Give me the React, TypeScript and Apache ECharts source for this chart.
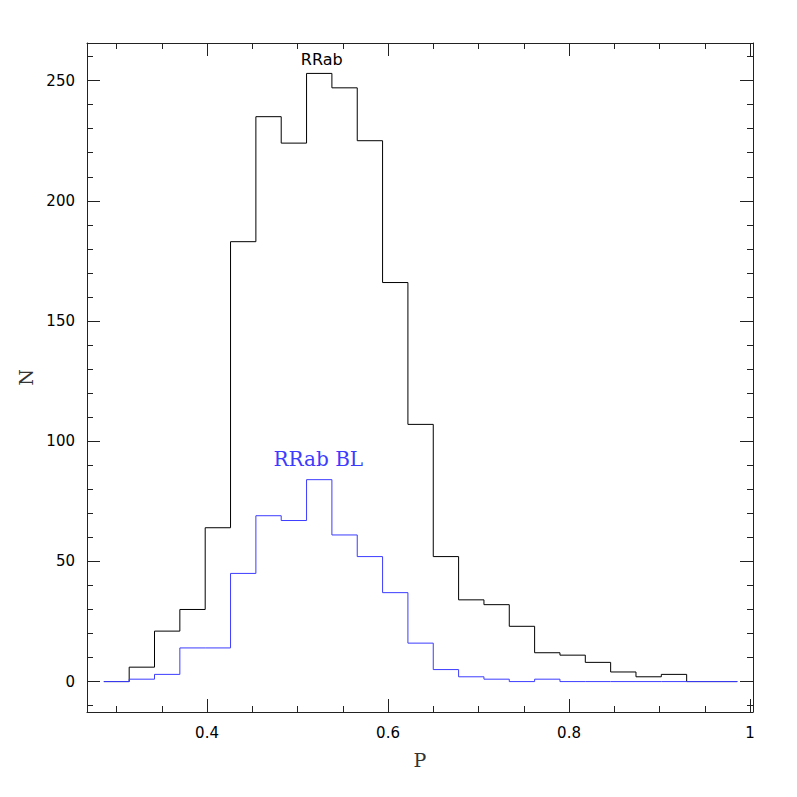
import React, { useEffect, useRef } from "react";
import * as echarts from "echarts";

// Histogram bin edges (period P)
const binEdges = [
  0.286, 0.314, 0.342, 0.37, 0.398, 0.426, 0.454, 0.482, 0.51, 0.538, 0.566, 0.594, 0.622,
  0.65, 0.678, 0.706, 0.734, 0.762, 0.79, 0.818, 0.846, 0.874, 0.902, 0.93, 0.958, 0.986,
];
// Counts per bin
const rrabCounts = [0, 6, 21, 30, 64, 183, 235, 224, 253, 247, 225, 166, 107, 52, 34, 32, 23, 12, 11, 8, 4, 2, 3, 0, 0];
const rrabBlCounts = [0, 1, 3, 14, 14, 45, 69, 67, 84, 61, 52, 37, 16, 5, 2, 1, 0, 1, 0, 0, 0, 0, 0, 0, 0];

// Axis ticks
const xMajorTicks = [0.4, 0.6, 0.8, 1.0];
const xMinorTicks = [0.3, 0.35, 0.45, 0.5, 0.55, 0.65, 0.7, 0.75, 0.85, 0.9, 0.95];
const yMajorTicks = [0, 50, 100, 150, 200, 250];
const yMinorTicks = [-10, 10, 20, 30, 40, 60, 70, 80, 90, 110, 120, 130, 140, 160, 170, 180, 190, 210, 220, 230, 240, 260];

// Annotations [P, N]
const rrabLabelPos = [0.5268, 258.7];
const rrabBlLabelPos = [0.523, 92.8];

const X_MIN = 0.2674;
const X_MAX = 1.0033;
const Y_MIN = -12.65;
const Y_MAX = 265.65;

const AXIS_COLOR = "#222";
const BLUE = "#3c3cff";

function stepData(edges: number[], counts: number[]) {
  const d: number[][] = counts.map((c, i) => [edges[i], c]);
  d.push([edges[edges.length - 1], counts[counts.length - 1]]);
  return d;
}

export default function App() {
  const ref = useRef<HTMLDivElement>(null);

  useEffect(() => {
    if (!ref.current) return;
    const chart = echarts.init(ref.current, null, { renderer: "svg" });

    const gridBox = { left: 87, right: 44, top: 43, bottom: 85 };
    const labelFont = { fontFamily: "DejaVu Sans", fontSize: 15, color: "#000" };

    const xAxisBase = (gridIndex: number, position: string, ticks: number[], len: number, main: boolean) => ({
      gridIndex,
      type: "value",
      position,
      min: X_MIN,
      max: X_MAX,
      axisLine: { show: main, onZero: false, lineStyle: { color: AXIS_COLOR, width: 1 } },
      axisTick: { show: true, inside: true, length: len, customValues: ticks, lineStyle: { color: AXIS_COLOR, width: 1 } },
      axisLabel: { show: false },
      splitLine: { show: false },
    });
    const yAxisBase = (gridIndex: number, position: string, ticks: number[], len: number, main: boolean) => ({
      gridIndex,
      type: "value",
      position,
      min: Y_MIN,
      max: Y_MAX,
      axisLine: { show: main, onZero: false, lineStyle: { color: AXIS_COLOR, width: 1 } },
      axisTick: { show: true, inside: true, length: len, customValues: ticks, lineStyle: { color: AXIS_COLOR, width: 1 } },
      axisLabel: { show: false },
      splitLine: { show: false },
    });

    const xBottom: any = xAxisBase(0, "bottom", xMajorTicks, 13, true);
    xBottom.axisLabel = {
      show: true,
      customValues: xMajorTicks,
      margin: 13,
      formatter: (v: number) => String(+v.toFixed(1)),
      ...labelFont,
    };
    xBottom.name = "P";
    xBottom.nameLocation = "middle";
    xBottom.nameGap = 38;
    xBottom.nameTextStyle = { fontFamily: "DejaVu Serif", fontSize: 19, color: "#333" };

    const yLeft: any = yAxisBase(0, "left", yMajorTicks, 13, true);
    yLeft.axisLabel = {
      show: true,
      customValues: yMajorTicks,
      margin: 12,
      formatter: (v: number) => String(Math.round(v)),
      ...labelFont,
    };
    yLeft.name = "N";
    yLeft.nameLocation = "middle";
    yLeft.nameGap = 51;
    yLeft.nameTextStyle = { fontFamily: "DejaVu Serif", fontSize: 19, color: "#333" };

    const option: any = {
      animation: false,
      backgroundColor: "#fff",
      grid: [
        { ...gridBox },
        { ...gridBox },
      ],
      xAxis: [
        xBottom,
        xAxisBase(0, "top", xMajorTicks, 13, true),
        xAxisBase(1, "bottom", xMinorTicks, 6, false),
        xAxisBase(1, "top", xMinorTicks, 6, false),
      ],
      yAxis: [
        yLeft,
        yAxisBase(0, "right", yMajorTicks, 13, true),
        yAxisBase(1, "left", yMinorTicks, 6, false),
        yAxisBase(1, "right", yMinorTicks, 6, false),
      ],
      series: [
        {
          name: "RRab",
          type: "line",
          xAxisIndex: 0,
          yAxisIndex: 0,
          step: "end",
          symbol: "none",
          silent: true,
          lineStyle: { color: "#000", width: 1 },
          data: stepData(binEdges, rrabCounts),
          markPoint: {
            silent: true,
            symbol: "rect",
            symbolSize: 1,
            itemStyle: { color: "rgba(0,0,0,0)" },
            label: {
              show: true,
              position: "inside",
              formatter: "RRab",
              color: "#000",
              fontFamily: "DejaVu Sans",
              fontSize: 16,
            },
            data: [{ coord: rrabLabelPos }],
          },
        },
        {
          name: "RRab BL",
          type: "line",
          xAxisIndex: 0,
          yAxisIndex: 0,
          step: "end",
          symbol: "none",
          silent: true,
          lineStyle: { color: BLUE, width: 1 },
          data: stepData(binEdges, rrabBlCounts),
          markPoint: {
            silent: true,
            symbol: "rect",
            symbolSize: 1,
            itemStyle: { color: "rgba(0,0,0,0)" },
            label: {
              show: true,
              position: "inside",
              formatter: "RRab BL",
              color: BLUE,
              fontFamily: "DejaVu Serif",
              fontSize: 20,
            },
            data: [{ coord: rrabBlLabelPos }],
          },
        },
      ],
    };

    chart.setOption(option);
    return () => chart.dispose();
  }, []);

  return (
    <div
      ref={ref}
      style={{ position: "fixed", left: 0, top: 0, width: 797, height: 797, background: "#fff" }}
    />
  );
}
